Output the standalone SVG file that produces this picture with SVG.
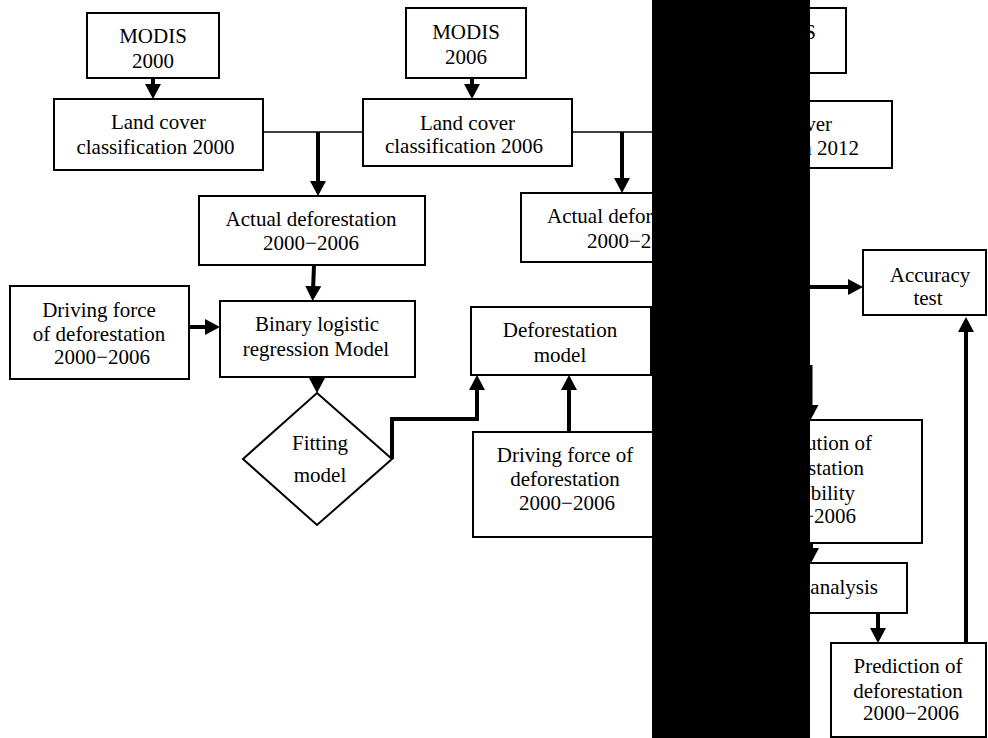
<svg xmlns="http://www.w3.org/2000/svg" width="988" height="738" viewBox="0 0 988 738">
<defs>
<style>
.box{fill:#fff;stroke:#000;stroke-width:2}
.t{font-family:"Liberation Serif","Times New Roman",serif;font-size:21px;fill:#000;text-anchor:middle}
.e{text-anchor:end}
.s{text-anchor:start}
.thin{fill:none;stroke:#000;stroke-width:1.3}
.arr{fill:none;stroke:#000;stroke-width:4;marker-end:url(#ah)}
</style>
<marker id="ah" viewBox="0 0 15 16" refX="5" refY="8" markerWidth="15" markerHeight="16" markerUnits="userSpaceOnUse" orient="auto"><path d="M0,0 L15,8 L0,16 z" fill="#000"/></marker>
</defs>
<rect x="0" y="0" width="988" height="738" fill="#fff"/>

<g id="connectors">
<path class="thin" d="M263,132 H363"/>
<path class="thin" d="M572,132 H674"/>
<path class="arr" d="M153,78 V89"/>
<path class="arr" d="M472,78 V89"/>
<path class="arr" d="M318,132 V186"/>
<path class="arr" d="M622,132 V183"/>
<path class="arr" d="M314,265 L313,291"/>
<path class="arr" d="M189,327 H210"/>
<path class="arr" d="M317,377 V383"/>
<path class="arr" d="M392,459 V419 H477 V385"/>
<path class="arr" d="M569,432 V385"/>
<path class="arr" d="M760,287 H853"/>
<path class="arr" d="M966,643 V327"/>
<path class="arr" d="M810.5,365 V410"/>
<path class="arr" d="M811,543 V553"/>
<path class="arr" d="M878,613 V633"/>
</g>

<g id="modis2000">
<rect class="box" x="87" y="13" width="132" height="65"/>
<text class="t" x="153" y="43">MODIS</text>
<text class="t" x="153" y="68">2000</text>
</g>
<g id="modis2006">
<rect class="box" x="406" y="8" width="120" height="70"/>
<text class="t" x="466" y="39">MODIS</text>
<text class="t" x="466" y="64">2006</text>
</g>
<g id="modis2012">
<rect class="box" x="717" y="8" width="129" height="65"/>
<text class="t e" x="816" y="39">S</text>
</g>

<g id="landcover2000">
<rect class="box" x="54" y="99" width="209" height="71"/>
<text class="t" x="158.5" y="129">Land cover</text>
<text class="t" x="155.5" y="154">classification 2000</text>
</g>
<g id="landcover2006">
<rect class="box" x="363" y="99" width="209" height="67"/>
<text class="t" x="467.5" y="130">Land cover</text>
<text class="t" x="464" y="153">classification 2006</text>
</g>
<g id="landcover2012">
<rect class="box" x="674" y="101" width="218" height="67"/>
<text class="t e" x="832" y="131">ver</text>
<text class="t e" x="859" y="155">n 2012</text>
</g>

<g id="actual1">
<rect class="box" x="199" y="196" width="226" height="69"/>
<text class="t" x="311" y="226">Actual deforestation</text>
<text class="t" x="311" y="250">2000−2006</text>
</g>
<g id="actual2">
<rect class="box" x="521" y="193" width="223" height="69"/>
<text class="t s" x="547" y="223">Actual defor</text>
<text class="t s" x="587" y="248">2000−2</text>
</g>

<g id="driving1">
<rect class="box" x="10" y="286" width="179" height="93"/>
<text class="t" x="99" y="317">Driving force</text>
<text class="t" x="99" y="341">of deforestation</text>
<text class="t" x="102" y="364">2000−2006</text>
</g>
<g id="binary">
<rect class="box" x="220" y="301" width="195" height="76"/>
<text class="t" x="317" y="331">Binary logistic</text>
<text class="t" x="316" y="356">regression Model</text>
</g>
<g id="fitting">
<polygon class="box" points="317,393 392,459 317,525 243,459"/>
<text class="t" x="320" y="450">Fitting</text>
<text class="t" x="320" y="482">model</text>
</g>
<g id="defmodel">
<rect class="box" x="471" y="307" width="180" height="68"/>
<text class="t" x="560" y="337">Deforestation</text>
<text class="t" x="560" y="362">model</text>
</g>
<g id="driving2">
<rect class="box" x="473" y="432" width="184" height="105"/>
<text class="t" x="565" y="462">Driving force of</text>
<text class="t" x="565" y="486">deforestation</text>
<text class="t" x="567" y="510">2000−2006</text>
</g>

<g id="accuracy">
<rect class="box" x="863" y="250" width="123" height="65"/>
<text class="t" x="930" y="282">Accuracy</text>
<text class="t" x="928" y="305">test</text>
</g>
<g id="distribution">
<rect class="box" x="696" y="420" width="226" height="123"/>
<text class="t e" x="872" y="450">ution of</text>
<text class="t e" x="864" y="475">station</text>
<text class="t e" x="855" y="500">bility</text>
<text class="t e" x="856" y="523">−2006</text>
</g>
<g id="analysis">
<rect class="box" x="700" y="563" width="207" height="50"/>
<text class="t e" x="878" y="594">analysis</text>
</g>
<g id="prediction">
<rect class="box" x="831" y="643" width="155" height="94"/>
<text class="t" x="908" y="673">Prediction of</text>
<text class="t" x="908" y="698">deforestation</text>
<text class="t" x="911" y="720">2000−2006</text>
</g>

<rect id="mask" x="652" y="0" width="158" height="738" fill="#000"/>
</svg>
